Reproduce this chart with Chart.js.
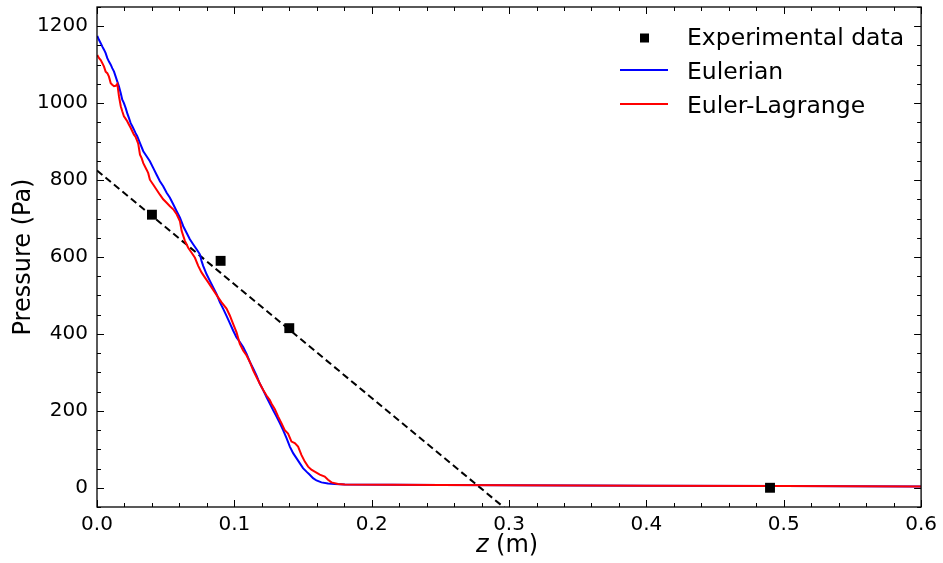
<!DOCTYPE html>
<html><head><meta charset="utf-8">
<script src="https://cdn.jsdelivr.net/npm/chart.js@4/dist/chart.umd.min.js"></script>
<style>html,body{margin:0;padding:0;background:#fff}</style>
</head><body>
<canvas id="c" width="943" height="563"></canvas>
<script>
// ---- data ----
const zEulerian = [0.0002,0.0015,0.0027,0.0039,0.0051,0.0063,0.0075,0.0087,0.0100,0.0111,0.0124,0.0136,0.0148,0.0160,0.0173,0.0184,0.0196,0.0209,0.0220,0.0233,0.0245,0.0257,0.0269,0.0281,0.0293,0.0313,0.0337,0.0361,0.0385,0.0410,0.0434,0.0458,0.0482,0.0507,0.0531,0.0555,0.0580,0.0604,0.0628,0.0652,0.0676,0.0700,0.0725,0.0749,0.0761,0.0773,0.0798,0.0822,0.0846,0.0870,0.0895,0.0919,0.0943,0.0967,0.0991,0.1016,0.1040,0.1064,0.1089,0.1113,0.1137,0.1161,0.1185,0.1210,0.1234,0.1258,0.1282,0.1307,0.1331,0.1355,0.1380,0.1404,0.1428,0.1452,0.1476,0.1500,0.1525,0.1549,0.1573,0.1598,0.1634,0.1682,0.1731,0.1804,0.25,0.30,0.40,0.50,0.60];
const pEulerian = [1175,1164,1156,1147,1139,1130,1117,1108,1100,1091,1082,1069,1056,1043,1026,1009,1000,987,974,961,948,940,931,922,914,896,875,862,849,831,814,797,784,767,754,737,719,702,680,663,646,633,620,607,590,577,555,538,521,504,482,465,447,428,409,391,379,366,348,327,310,292,271,254,236,219,202,185,168,150,129,107,90,77,64,51,42,34,25,19,14,11,9.6,8.5,7.5,6.5,5.5,4.5,3.5];
const zEulerLagrange = [0.0002,0.0015,0.0027,0.0039,0.0051,0.0063,0.0075,0.0087,0.0100,0.0111,0.0124,0.0136,0.0148,0.0160,0.0173,0.0184,0.0196,0.0209,0.0220,0.0233,0.0245,0.0257,0.0269,0.0281,0.0300,0.0313,0.0325,0.0337,0.0361,0.0373,0.0385,0.0410,0.0434,0.0458,0.0482,0.0507,0.0531,0.0555,0.0580,0.0604,0.0616,0.0640,0.0664,0.0689,0.0713,0.0737,0.0761,0.0785,0.0810,0.0834,0.0858,0.0882,0.0907,0.0943,0.0967,0.0991,0.1016,0.1040,0.1064,0.1089,0.1113,0.1137,0.1161,0.1185,0.1210,0.1234,0.1258,0.1270,0.1295,0.1319,0.1343,0.1367,0.1391,0.1416,0.1440,0.1464,0.1489,0.1513,0.1537,0.1561,0.1585,0.1622,0.1658,0.1682,0.1707,0.1755,0.1804,0.25,0.30,0.40,0.50,0.60];
const pEulerLagrange = [1125,1117,1112,1104,1095,1082,1078,1069,1052,1048,1044,1045,1050,1018,992,979,966,959,953,944,936,927,918,912,895,866,857,844,827,818,801,788,775,762,750,741,732,724,711,693,668,642,624,611,598,577,560,547,534,521,508,495,482,466,448,426,404,374,357,344,327,305,288,271,254,240,228,219,204,185,168,150,141,120,116,107,85,68,55,47,42,34,29,21,14,9.6,8.5,7.5,6.5,5.5,4.5,3.5];
const zExperimental = [0.04,0.09,0.14,0.49];
const pExperimental = [710,590,415,0];
const zFit = [0.0,0.3];
const pFit = [825,-62];
const xTicks = [0.0,0.1,0.2,0.3,0.4,0.5,0.6];
const yTicks = [0,200,400,600,800,1000,1200];
const legendLabels = ['Experimental data','Eulerian','Euler-Lagrange'];

const pts = (xs, ys) => xs.map((x, i) => ({x, y: ys[i]}));
const FONT = 'DejaVu Sans';

const framePlugin = {
  id: 'frame',
  afterDatasetsDraw(chart) {
    const {ctx, chartArea: a, scales: {x, y}} = chart;
    ctx.save();
    ctx.strokeStyle = '#000';
    ctx.lineWidth = 1;
    const tick = (x1, y1, x2, y2) => { ctx.beginPath(); ctx.moveTo(x1, y1); ctx.lineTo(x2, y2); ctx.stroke(); };
    for (let i = 0; i <= 30; i++) {
      const v = i * 0.02; if (i % 5 === 0) continue;
      const px = Math.round(x.getPixelForValue(v)) + 0.5;
      tick(px, a.bottom, px, a.bottom - 4); tick(px, a.top, px, a.top + 4);
    }
    for (let v = -50; v <= 1250; v += 50) {
      if (v % 200 === 0) continue;
      const py = Math.round(y.getPixelForValue(v)) + 0.5;
      tick(a.left, py, a.left + 4, py); tick(a.right, py, a.right - 4, py);
    }
    xTicks.forEach(v => { const px = Math.round(x.getPixelForValue(v)) + 0.5; tick(px, a.bottom, px, a.bottom - 7); tick(px, a.top, px, a.top + 7); });
    yTicks.forEach(v => { const py = Math.round(y.getPixelForValue(v)) + 0.5; tick(a.left, py, a.left + 7, py); tick(a.right, py, a.right - 7, py); });
    ctx.lineWidth = 1.3;
    ctx.strokeRect(a.left, a.top, a.right - a.left, a.bottom - a.top);

    // legend
    ctx.font = '23.5px "' + FONT + '"';
    ctx.textBaseline = 'alphabetic';
    ctx.textAlign = 'left';
    ctx.fillStyle = '#000';
    const tx = 687, base = [45, 79, 113], ly = [38, 70, 104];
    ctx.fillRect(640, ly[0] - 4.5, 9, 9);
    ctx.lineWidth = 2;
    ctx.strokeStyle = '#0000ff'; tick(620, ly[1], 668, ly[1]);
    ctx.strokeStyle = '#ff0000'; tick(620, ly[2], 668, ly[2]);
    legendLabels.forEach((t, i) => ctx.fillText(t, tx, base[i]));

    // x axis title with italic z
    const cx = (a.left + a.right) / 2 - 2, cy = 546;
    ctx.textBaseline = 'middle';
    const f1 = 'italic 24px "' + FONT + '"', f2 = '24px "' + FONT + '"';
    ctx.font = f1; const w1 = ctx.measureText('z').width;
    ctx.font = f2; const w2 = ctx.measureText(' (m)').width;
    const sx = cx - (w1 + w2) / 2;
    ctx.font = f1; ctx.fillText('z', sx, cy);
    ctx.font = f2; ctx.fillText(' (m)', sx + w1, cy);
    ctx.restore();
  }
};

new Chart(document.getElementById('c'), {
  type: 'scatter',
  data: {
    datasets: [
      { label: legendLabels[0], data: pts(zExperimental, pExperimental), pointStyle: 'rect', pointRadius: 7, backgroundColor: '#000', borderColor: '#000', borderWidth: 0, order: 0 },
      { label: legendLabels[2], data: pts(zEulerLagrange, pEulerLagrange), showLine: true, borderColor: '#ff0000', borderWidth: 2, pointRadius: 0, order: 1 },
      { label: legendLabels[1], data: pts(zEulerian, pEulerian), showLine: true, borderColor: '#0000ff', borderWidth: 2, pointRadius: 0, order: 2 },
      { label: 'fit', data: pts(zFit, pFit), showLine: true, borderColor: '#000', borderWidth: 2, borderDash: [7, 4], pointRadius: 0, order: 3 }
    ]
  },
  options: {
    responsive: false,
    animation: false,
    devicePixelRatio: 1,
    layout: { padding: { top: 5, right: 20, left: 0, bottom: 0 } },
    plugins: { legend: { display: false }, tooltip: { enabled: false } },
    scales: {
      x: {
        type: 'linear', min: 0, max: 0.6,
        afterBuildTicks: s => { s.ticks = xTicks.map(v => ({value: v})); },
        afterFit: s => { s.height = 56; },
        grid: { display: false, drawTicks: false },
        border: { display: false },
        ticks: { color: '#000', padding: 6, maxRotation: 0, font: { family: FONT, size: 20 }, callback: v => Number(v).toFixed(1) },
        title: { display: false }
      },
      y: {
        type: 'linear', min: -50, max: 1250,
        afterBuildTicks: s => { s.ticks = yTicks.map(v => ({value: v})); },
        afterFit: s => { s.width = 97; s.paddingTop = 0; s.paddingBottom = 0; },
        grid: { display: false, drawTicks: false },
        border: { display: false },
        ticks: { color: '#000', padding: 9, font: { family: FONT, size: 20 }, callback: v => String(v) },
        title: { display: true, text: 'Pressure (Pa)', color: '#000', font: { family: FONT, size: 24 }, padding: { top: 9, bottom: 0 } }
      }
    }
  },
  plugins: [framePlugin]
});
</script>
</body></html>
